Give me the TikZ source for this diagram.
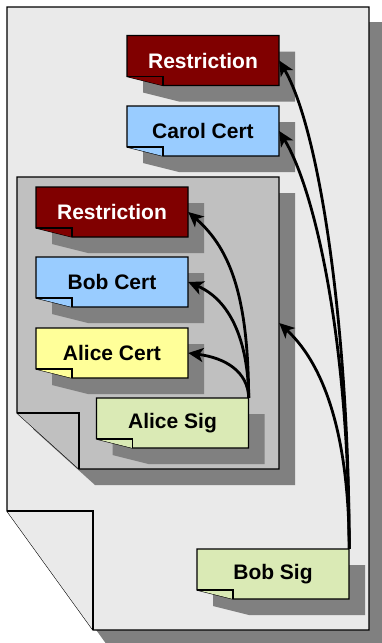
\documentclass[tikz,border=0pt]{standalone}
\usepackage{fontspec}
\setmainfont{Liberation Sans}
\usetikzlibrary{arrows.meta}
\definecolor{pagegray}{HTML}{EAEAEA}
\definecolor{innergray}{HTML}{C0C0C0}
\definecolor{shadowgray}{HTML}{808080}
\definecolor{restred}{HTML}{800000}
\definecolor{certblue}{HTML}{99CCFF}
\definecolor{certyellow}{HTML}{FFFF99}
\definecolor{siggreen}{HTML}{DAEAB5}
\tikzset{
  notetext/.style={minimum width=152pt, minimum height=50pt, inner sep=0pt, draw=none,
    font=\fontsize{21}{25}\selectfont\bfseries},
  outline/.style={draw=black, line width=1.1pt, line join=miter},
  sigarrow/.style={draw=black, line width=2.8pt, -{Stealth[length=15pt,width=14pt,inset=4pt]}},
}
\newcommand{\stickynote}[5]{%
  \begin{scope}[shift={(#2)}]
    \fill[shadowgray] (-60,-9) -- (92,-9) -- (92,41) -- (-24,41) -- (-60,32) -- cycle;
    \path[outline, fill=#3] (-76,-25) -- (76,-25) -- (76,25) -- (-40,25) -- (-76,16) -- cycle;
    \path[outline, fill=#3] (-76,16) -- (-40,16) -- (-40,25);
    \node[notetext, text=#4] (#1) at (0,0) {#5};
  \end{scope}}
\begin{document}
\begin{tikzpicture}[x=1pt, y=-1pt]
  \useasboundingbox (0,0) rectangle (381,643);
  % outer page shadow and page
  \fill[shadowgray] (21,22) -- (383,22) -- (383,645) -- (107,645) -- (21,526) -- cycle;
  \path[outline, fill=pagegray] (7,7) -- (369,7) -- (369,630) -- (93,630) -- (7,511) -- cycle;
  \path[outline, fill=pagegray] (7,511) -- (93,511) -- (93,630);
  \node[minimum width=362pt, minimum height=623pt, inner sep=0pt] (outer) at (188,318.5) {};
  % inner document shadow and body
  \fill[shadowgray] (33,193) -- (295,193) -- (295,485) -- (95,485) -- (33,429) -- cycle;
  \path[outline, fill=innergray] (17,177) -- (279,177) -- (279,469) -- (79,469) -- (17,413) -- cycle;
  \path[outline, fill=innergray] (17,413) -- (79,413) -- (79,469);
  \node[minimum width=262pt, minimum height=292pt, inner sep=0pt] (inner) at (148,323) {};
  % notes
  \stickynote{restrA}{203,60.5}{restred}{white}{Restriction}
  \stickynote{carol}{203,131}{certblue}{black}{Carol Cert}
  \stickynote{restrB}{112,212}{restred}{white}{Restriction}
  \stickynote{bobcert}{112,282}{certblue}{black}{Bob Cert}
  \stickynote{alicecert}{112,353}{certyellow}{black}{Alice Cert}
  \stickynote{alicesig}{172.5,423}{siggreen}{black}{Alice Sig}
  \stickynote{bobsig}{273,574}{siggreen}{black}{Bob Sig}
  % arrows from Alice Sig
  \draw[sigarrow] (alicesig.north east) .. controls (248,300) and (232,250) .. (restrB.east);
  \draw[sigarrow] (alicesig.north east) .. controls (248,340) and (230,300) .. (bobcert.east);
  \draw[sigarrow] (alicesig.north east) .. controls (248,372) and (226,358) .. (alicecert.east);
  % arrows from Bob Sig
  \draw[sigarrow] (bobsig.north east) .. controls (349,330) and (320,130) .. (restrA.east);
  \draw[sigarrow] (bobsig.north east) .. controls (349,340) and (315,190) .. (carol.east);
  \draw[sigarrow] (bobsig.north east) .. controls (349,450) and (330,370) .. (inner.east);
\end{tikzpicture}
\end{document}
